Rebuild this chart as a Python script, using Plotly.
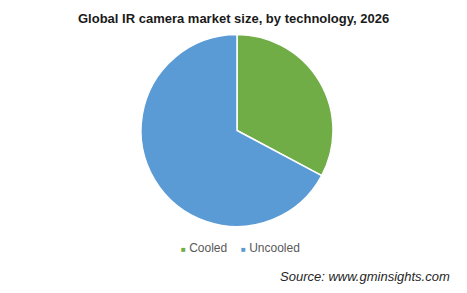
import plotly.graph_objects as go

labels = ["Cooled", "Uncooled"]
values = [32.8, 67.2]
colors = ["#70AD47", "#5B9BD5"]
title_text = "Global IR camera market size, by technology, 2026"
source_text = "Source: www.gminsights.com"

W, H = 467, 293
FONT = "Arial, Liberation Sans, sans-serif"

fig = go.Figure(go.Pie(
    labels=labels,
    values=values,
    sort=False,
    direction="clockwise",
    rotation=0,
    textinfo="none",
    hoverinfo="label+percent",
    marker=dict(colors=colors, line=dict(color="white", width=1.5)),
    domain=dict(x=[141 / W, 333 / W], y=[1 - 227 / H, 1 - 34 / H]),
    showlegend=False,
))

annotations = [
    dict(text="<b>" + title_text + "</b>", x=233 / W, y=1 - 18 / H,
         xref="paper", yref="paper", xanchor="center", yanchor="middle",
         showarrow=False, font=dict(family=FONT, size=13, color="#1a1a1a")),
    dict(text="<i>" + source_text + "</i>", x=452 / W, y=1 - 276 / H,
         xref="paper", yref="paper", xanchor="right", yanchor="middle",
         showarrow=False, font=dict(family=FONT, size=13, color="#262626")),
]

legend_x = [179, 239]
for lab, col, lx in zip(labels, colors, legend_x):
    annotations.append(dict(
        text=f"<span style='color:{col};font-size:8px'>■</span> {lab}",
        x=lx / W, y=1 - 248 / H, xref="paper", yref="paper",
        xanchor="left", yanchor="middle", showarrow=False,
        font=dict(family=FONT, size=12, color="#595959")))

fig.update_layout(
    width=W, height=H,
    margin=dict(l=0, r=0, t=0, b=0),
    paper_bgcolor="white",
    plot_bgcolor="white",
    annotations=annotations,
)

fig.write_html("out.html")
